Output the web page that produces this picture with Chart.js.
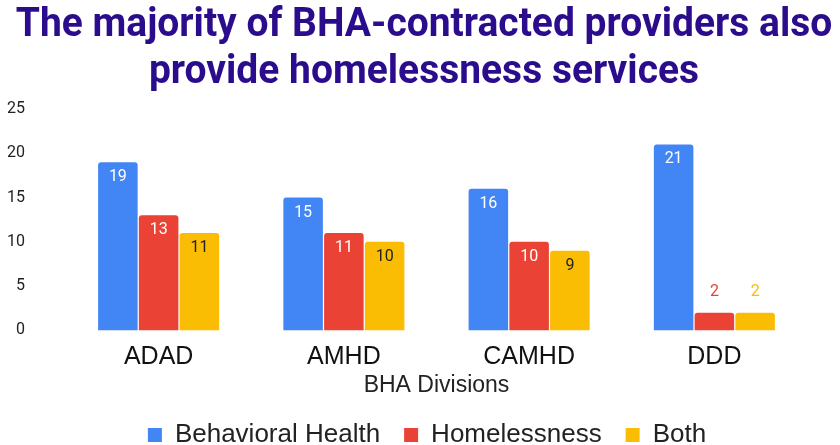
<!DOCTYPE html>
<html>
<head>
<meta charset="utf-8">
<script src="https://cdn.jsdelivr.net/npm/chart.js@4"></script>
<style>
    body { margin: 0; background: #fff; }
    #wrap { position: relative; width: 840px; height: 445px; }
    #title {
        position: absolute; left: 4px; top: -1px; width: 840px;
        font-family: Roboto, sans-serif; font-weight: 700; font-size: 40px;
        line-height: 47px; color: #2b0c8c; text-align: center;
        transform: scaleX(0.975); transform-origin: 50% 0;
        white-space: nowrap;
    }
    #title div { margin-left: -100px; margin-right: -100px; }
</style>
</head>
<body>
<div id="wrap">
    <div id="title"><div>The majority of BHA-contracted providers also</div><div>provide homelessness services</div></div>
    <canvas id="chart" width="840" height="445"></canvas>
</div>
<script>
const divisions = ["ADAD", "AMHD", "CAMHD", "DDD"];
const behavioralHealth = [19, 15, 16, 21];
const homelessness = [13, 11, 10, 2];
const both = [11, 10, 9, 2];
const yTicks = [0, 5, 10, 15, 20, 25];

const blue = "#4285F4";
const red = "#EA4335";
const yellow = "#FBBC04";

// draws the value on each bar, inside the top if it fits, otherwise above it
const barLabels = {
    id: "barLabels",
    afterDatasetsDraw(chart) {
        var ctx = chart.ctx;
        ctx.save();
        ctx.font = "16px Roboto, sans-serif";
        ctx.textAlign = "center";
        ctx.textBaseline = "middle";
        chart.data.datasets.forEach(function (ds, i) {
            var meta = chart.getDatasetMeta(i);
            meta.data.forEach(function (bar, j) {
                var value = ds.data[j];
                var height = bar.base - bar.y;
                if (height > 30) {
                    ctx.fillStyle = ds.labelColor;
                    ctx.fillText(value, bar.x, bar.y + 15);
                } else {
                    ctx.fillStyle = ds.backgroundColor;
                    ctx.fillText(value, bar.x, bar.y - 21);
                }
            });
        });
        ctx.restore();
    }
};

// the original legend sits a bit right of centre
const legendShift = {
    id: "legendShift",
    afterLayout(chart) {
        chart.legend.left += 20;
        chart.legend.right += 20;
    }
};

new Chart(document.getElementById("chart"), {
    type: "bar",
    data: {
        labels: divisions,
        datasets: [
            { label: "Behavioral Health", data: behavioralHealth, backgroundColor: blue, labelColor: "#fff" },
            { label: "Homelessness", data: homelessness, backgroundColor: red, labelColor: "#fff" },
            { label: "Both", data: both, backgroundColor: yellow, labelColor: "#222" }
        ]
    },
    options: {
        responsive: false,
        animation: false,
        layout: { padding: { top: 109, right: 33, left: 7, bottom: -13 } },
        datasets: {
            bar: { barPercentage: 0.97, categoryPercentage: 0.66, borderRadius: 3, borderSkipped: "bottom" }
        },
        scales: {
            x: {
                grid: { display: false },
                border: { display: false },
                afterFit: function (axis) {
                    axis.paddingLeft = 0;
                    axis.paddingRight = 0;
                },
                ticks: { color: "#111", font: { family: "Liberation Sans", size: 25 }, padding: 4 },
                title: { display: true, text: "BHA Divisions", color: "#222", font: { family: "Liberation Sans", size: 23 }, padding: { top: -5, bottom: -1 } }
            },
            y: {
                min: 0,
                max: 25,
                afterBuildTicks: function (axis) {
                    axis.ticks = yTicks.map(function (v) { return { value: v }; });
                },
                afterFit: function (axis) {
                    axis.width = 59;
                },
                grid: { display: false },
                border: { display: false },
                ticks: { color: "#222", font: { family: "Roboto", size: 16 }, padding: 33 }
            }
        },
        plugins: {
            legend: {
                position: "bottom",
                labels: { color: "#222", font: { family: "Liberation Sans", size: 26 }, boxWidth: 14, boxHeight: 14, padding: 24 }
            },
            tooltip: { enabled: false }
        }
    },
    plugins: [barLabels, legendShift]
});
</script>
</body>
</html>
